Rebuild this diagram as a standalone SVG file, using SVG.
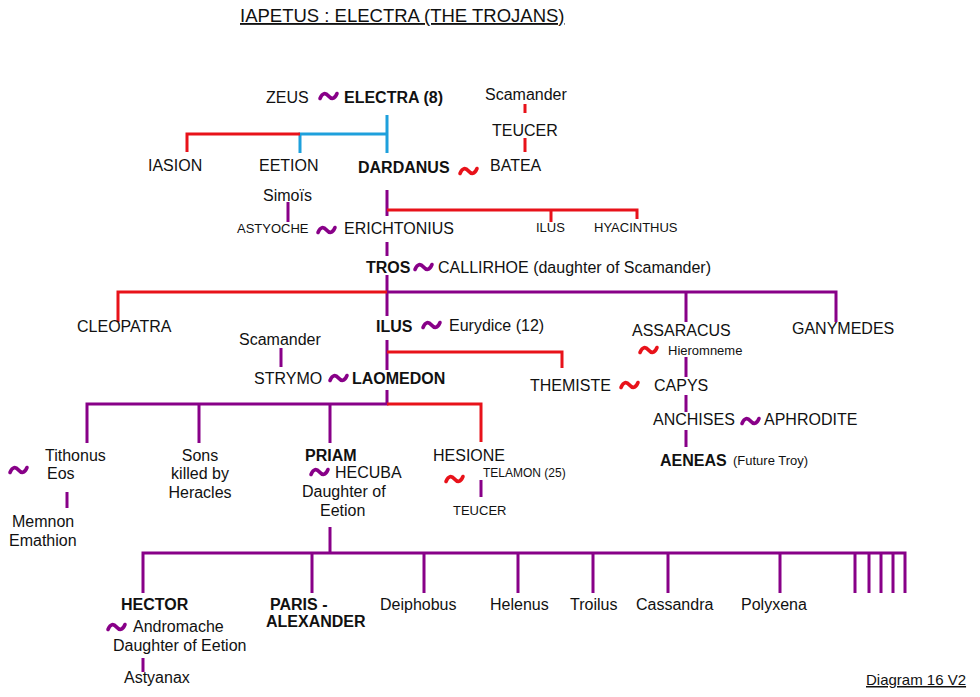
<svg xmlns="http://www.w3.org/2000/svg" xmlns:xlink="http://www.w3.org/1999/xlink" width="980" height="697" viewBox="0 0 980 697">
<style>
text{font-family:"Liberation Sans",Arial,sans-serif;font-size:16px;fill:#111}
.b{font-weight:bold}
.s{font-size:13px}
.xs{font-size:12px}
.u{text-decoration:underline}
.pu{stroke:#880088}
.re{stroke:#e8121a}
.bl{stroke:#1ea0dc}
#conn line,#conn path{stroke-width:3;fill:none}
</style>
<defs>
<path id="t" d="M0,2.5 C2.5,-3.5 5.5,-3.5 8.5,0 C11.5,3.5 14.5,3.5 17,-2.5" fill="none" stroke-width="3.6" stroke-linecap="round"/>
</defs>
<rect width="980" height="697" fill="#fff"/>
<text x="240" y="22" class="u" style="font-size:18.5px">IAPETUS : ELECTRA (THE TROJANS)</text>

<g id="conn">
<path class="bl" d="M387,115V153M387,134H300V153"/>
<path class="re" d="M300,134H187V152"/>
<path class="re" d="M525,104V113M525,138V152"/>
<path class="pu" d="M288,202V222"/>
<path class="pu" d="M387,190V216"/>
<path class="re" d="M387,210H637V219M551,210V222"/>
<path class="pu" d="M387,242V256"/>
<path class="pu" d="M387,275V316"/>
<path class="re" d="M387,292H118V322"/>
<path class="pu" d="M387,292H836V322M686,292V322"/>
<path class="pu" d="M387,340V370"/>
<path class="re" d="M387,352H562V368"/>
<path class="pu" d="M281,348V367"/>
<path class="pu" d="M686,357V377M686,395V412M686,430V447"/>
<path class="pu" d="M387,390V404H87V443M199,404V443M330,404V443"/>
<path class="re" d="M387,404H481V442"/>
<path class="pu" d="M67,492V508"/>
<path class="pu" d="M481,480V497"/>
<path class="pu" d="M330,527V553"/>
<path class="pu" d="M143,593V553H905V593M312,553V593M424,553V593M518,553V593M593,553V593M668,553V593M780,553V593M855,553V593M869,553V593M881,553V593M893,553V593"/>
<path class="pu" d="M143,658V672"/>
<use href="#t" x="320" y="96" class="pu"/>
<use href="#t" x="460" y="171" class="re"/>
<use href="#t" x="318" y="230" class="pu"/>
<use href="#t" x="415" y="267" class="pu"/>
<use href="#t" x="423" y="325" class="pu"/>
<use href="#t" x="640" y="350" class="re"/>
<use href="#t" x="330" y="378" class="pu"/>
<use href="#t" x="621" y="385" class="re"/>
<use href="#t" x="742" y="421" class="pu"/>
<use href="#t" x="10" y="470" class="pu"/>
<use href="#t" x="311" y="472" class="pu"/>
<use href="#t" x="446" y="479" class="re"/>
<use href="#t" x="108" y="627" class="pu"/>
</g>

<g id="zeus"><text x="266" y="103">ZEUS</text></g>
<g id="electra"><text x="344" y="103" class="b">ELECTRA (8)</text></g>
<g id="scamander1"><text x="485" y="100">Scamander</text></g>
<g id="teucer1"><text x="492" y="136">TEUCER</text></g>
<g id="iasion"><text x="148" y="171">IASION</text></g>
<g id="eetion"><text x="259" y="171">EETION</text></g>
<g id="dardanus"><text x="358" y="173" class="b">DARDANUS</text></g>
<g id="batea"><text x="490" y="171">BATEA</text></g>
<g id="simois"><text x="263" y="201">Simoïs</text></g>
<g id="astyoche"><text x="237" y="233" class="s">ASTYOCHE</text></g>
<g id="erichtonius"><text x="344" y="234">ERICHTONIUS</text></g>
<g id="ilus1"><text x="536" y="232" class="s">ILUS</text></g>
<g id="hyacinthus"><text x="594" y="232" class="s">HYACINTHUS</text></g>
<g id="tros"><text x="366" y="273" class="b">TROS</text></g>
<g id="callirhoe"><text x="438" y="273">CALLIRHOE (daughter of Scamander)</text></g>
<g id="cleopatra"><text x="77" y="332">CLEOPATRA</text></g>
<g id="ilus2"><text x="376" y="332" class="b">ILUS</text></g>
<g id="eurydice"><text x="449" y="331">Eurydice (12)</text></g>
<g id="assaracus"><text x="632" y="336">ASSARACUS</text></g>
<g id="ganymedes"><text x="792" y="334">GANYMEDES</text></g>
<g id="hieromneme"><text x="668" y="355" class="s">Hieromneme</text></g>
<g id="scamander2"><text x="239" y="345">Scamander</text></g>
<g id="strymo"><text x="254" y="384">STRYMO</text></g>
<g id="laomedon"><text x="352" y="384" class="b">LAOMEDON</text></g>
<g id="themiste"><text x="530" y="391">THEMISTE</text></g>
<g id="capys"><text x="654" y="391">CAPYS</text></g>
<g id="anchises"><text x="653" y="425">ANCHISES</text></g>
<g id="aphrodite"><text x="764" y="425">APHRODITE</text></g>
<g id="aeneas"><text x="660" y="466" class="b">AENEAS</text><text x="733" y="465" class="s">(Future Troy)</text></g>
<g id="tithonus"><text x="45" y="461">Tithonus</text><text x="47" y="479">Eos</text></g>
<g id="memnon"><text x="12" y="527">Memnon</text><text x="9" y="546">Emathion</text></g>
<g id="sons"><text x="200" y="461" text-anchor="middle">Sons</text><text x="200" y="479" text-anchor="middle">killed by</text><text x="200" y="498" text-anchor="middle">Heracles</text></g>
<g id="priam"><text x="305" y="461" class="b">PRIAM</text><text x="335" y="478">HECUBA</text><text x="302" y="497">Daughter of</text><text x="320" y="516">Eetion</text></g>
<g id="hesione"><text x="433" y="461">HESIONE</text></g>
<g id="telamon"><text x="483" y="477" class="xs">TELAMON (25)</text></g>
<g id="teucer2"><text x="453" y="515" class="s">TEUCER</text></g>
<g id="hector"><text x="121" y="610" class="b">HECTOR</text><text x="133" y="632">Andromache</text><text x="113" y="651">Daughter of Eetion</text></g>
<g id="astyanax"><text x="124" y="683">Astyanax</text></g>
<g id="paris"><text x="270" y="610" class="b">PARIS -</text><text x="266" y="627" class="b">ALEXANDER</text></g>
<g id="deiphobus"><text x="380" y="610">Deiphobus</text></g>
<g id="helenus"><text x="490" y="610">Helenus</text></g>
<g id="troilus"><text x="570" y="610">Troilus</text></g>
<g id="cassandra"><text x="636" y="610">Cassandra</text></g>
<g id="polyxena"><text x="741" y="610">Polyxena</text></g>
<text x="866" y="685" class="u" style="font-size:15px">Diagram 16 V2</text>
</svg>
